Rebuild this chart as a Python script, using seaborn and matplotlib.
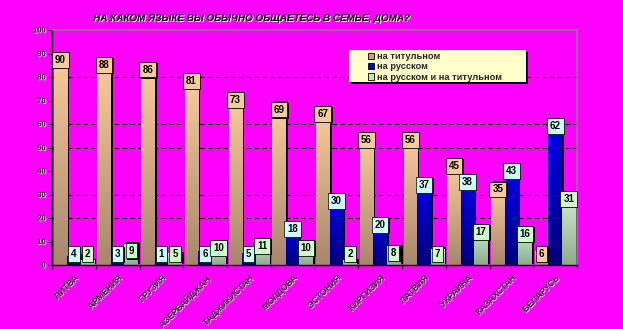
import numpy as np
import pandas as pd
import matplotlib
matplotlib.use("Agg")
import matplotlib.pyplot as plt
import seaborn as sns
from matplotlib import patheffects as pe
from matplotlib.colors import LinearSegmentedColormap
from matplotlib.patches import Rectangle, Patch

countries = ["ЛИТВА", "АРМЕНИЯ", "ГРУЗИЯ", "АЗЕРБАЙДЖАН", "ТАДЖИКИСТАН", "МОЛДОВА",
             "ЭСТОНИЯ", "КИРГИЗИЯ", "ЛАТВИЯ", "УКРАИНА", "КАЗАХСТАН", "БЕЛАРУСЬ"]
series_names = ["на титульном", "на русском", "на русском и на титульном"]
titular = [90, 88, 86, 81, 73, 69, 67, 56, 56, 45, 35, 6]
russian = [4, 3, 1, 6, 5, 18, 30, 20, 37, 38, 43, 62]
mixed = [2, 9, 5, 10, 11, 10, 2, 8, 7, 17, 16, 31]
title = "НА КАКОМ ЯЗЫКЕ ВЫ ОБЫЧНО ОБЩАЕТЕСЬ В СЕМЬЕ, ДОМА?"

df = pd.DataFrame({
    "country": countries * 3,
    "series": sum([[s] * len(countries) for s in series_names], []),
    "value": titular + russian + mixed,
})

BG = "#FF00FF"
grad_cols = [("#A8866C", "#FCCC9E"), ("#00007A", "#0000F0"), ("#8CAA8C", "#D4F0D4")]
legend_cols = ["#C8A07E", "#0000CC", "#C4E4C4"]
label_fc = ["#FBCB9E", "#CCFFFF", "#CCFFCC"]

sns.set_style("white")
plt.rcParams["font.family"] = ["Liberation Sans", "DejaVu Sans"]

fig = plt.figure(figsize=(6.23, 3.29), dpi=100, facecolor=BG)
ax = fig.add_axes([52 / 623, 1 - 265 / 329, 525 / 623, 235 / 329])
ax.set_facecolor(BG)

sns.barplot(data=df, x="country", y="value", hue="series", hue_order=series_names,
            palette=legend_cols, saturation=1, width=0.93, ax=ax, legend=False,
            linewidth=0, zorder=2)

shadow = [pe.SimplePatchShadow(offset=(1.5, 1.0), shadow_rgbFace="black", alpha=1), pe.Normal()]
for ci, cont in enumerate(ax.containers):
    cmap = LinearSegmentedColormap.from_list("g%d" % ci, [grad_cols[ci][0], grad_cols[ci][1]])
    for bar, v in zip(cont, cont.datavalues):
        bar.set_path_effects(shadow)
        x0, y0, w, h = bar.get_x(), bar.get_y(), bar.get_width(), bar.get_height()
        grad = np.linspace(0, 1, 128).reshape(-1, 1)
        im = ax.imshow(grad, extent=[x0, x0 + w, y0, y0 + h], origin="lower", cmap=cmap,
                       aspect="auto", zorder=2.1, interpolation="bilinear")
        im.set_clip_path(bar)
        ytop = max(v, 7.6)
        t = ax.annotate(f"{int(v)}", xy=(x0 + w / 2, ytop), xytext=(0, -1.2),
                        textcoords="offset points", ha="center", va="top",
                        fontsize=7, fontweight="bold", color="black", zorder=5,
                        bbox=dict(boxstyle="square,pad=0.3", fc=label_fc[ci], ec="black", lw=0.5))
        t.get_bbox_patch().set_path_effects(
            [pe.SimplePatchShadow(offset=(1.0, -0.8), shadow_rgbFace="black", alpha=1), pe.Normal()])

ax.set_xlim(-0.5, len(countries) - 0.5)
ax.set_ylim(0, 100)

for g in [20, 30, 50, 60, 80]:
    ax.axhline(g, color="black", lw=0.8, ls=(0, (4, 3)), zorder=0.5)

ax.set_yticks(np.arange(0, 101, 10))
ax.set_yticklabels([str(v) for v in range(0, 101, 10)], fontsize=5.5, fontweight="bold")
ax.tick_params(axis="y", length=3, width=0.8, color="black", pad=1.5, direction="out", left=True)

ax.set_xticks(np.arange(len(countries)))
ax.set_xticklabels(countries, rotation=45, ha="right", va="top", rotation_mode="anchor",
                   fontsize=6.3, fontweight="bold")
ax.tick_params(axis="x", length=0, pad=6)
ax.set_xticks(np.arange(-0.5, len(countries), 1), minor=True)
ax.tick_params(axis="x", which="minor", length=3, width=0.8, color="black", bottom=True)
txt_fx = [pe.withSimplePatchShadow(offset=(0.6, -0.6), shadow_rgbFace="white", alpha=0.9)]
for lab in ax.get_xticklabels() + ax.get_yticklabels():
    lab.set_path_effects(txt_fx)
ax.set_xlabel("")
ax.set_ylabel("")

for s in ["left", "bottom"]:
    ax.spines[s].set_color("black")
    ax.spines[s].set_linewidth(1.0)
    ax.spines[s].set_visible(True)
for s in ["top", "right"]:
    ax.spines[s].set_color("#808080")
    ax.spines[s].set_linewidth(1.2)
    ax.spines[s].set_visible(True)

# legend box
lx0, ly0 = 349 / 623, 1 - 82 / 329
lw, lh = 177 / 623, 32 / 329
fig.patches.append(Rectangle((lx0 + 2 / 623, ly0 - 2 / 329), lw, lh, transform=fig.transFigure,
                             fc="black", ec="none", zorder=3))
fig.patches.append(Rectangle((lx0, ly0), lw, lh, transform=fig.transFigure,
                             fc="#FFFFCC", ec="none", zorder=3.1))
handles = [Patch(facecolor=c, edgecolor="black", linewidth=0.6) for c in legend_cols]
leg = fig.legend(handles, series_names, loc="upper left", bbox_to_anchor=(368 / 623, 1 - 52 / 329),
                 frameon=False, fontsize=6.7, handlelength=0.65, handleheight=0.65,
                 handletextpad=0.3, labelspacing=0.15, borderpad=0, borderaxespad=0)
for t in leg.get_texts():
    t.set_fontweight("bold")
leg.set_zorder(4)

fig.text(252 / 623, 1 - 18 / 329, title, ha="center", va="center", fontsize=7.1,
         fontweight="bold", fontstyle="italic", color="black",
         path_effects=[pe.withSimplePatchShadow(offset=(0.7, -0.7), shadow_rgbFace="white", alpha=1)])

fig.savefig("out.png", dpi=100, facecolor=BG)
